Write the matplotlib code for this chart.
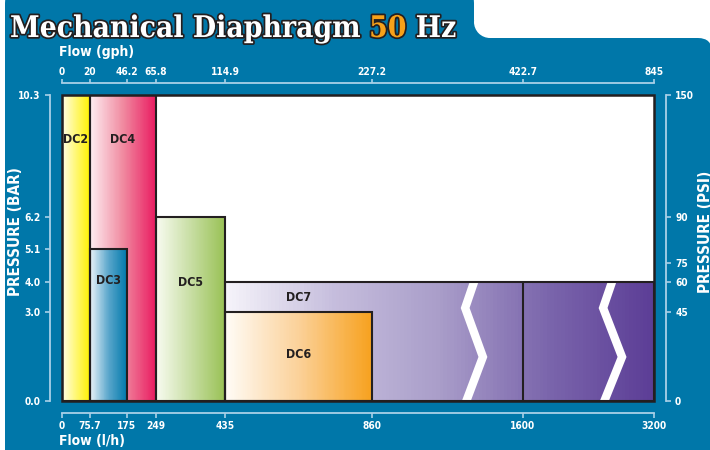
import numpy as np
import matplotlib
matplotlib.use('Agg')
import matplotlib.pyplot as plt
import matplotlib.patheffects as pe
from matplotlib import font_manager as fm
from matplotlib.colors import LinearSegmentedColormap
from matplotlib.patches import Rectangle, FancyBboxPatch, Circle

# ---- data ----
flow_lph = [0, 75.7, 175, 249, 435, 860, 1600, 3200]
flow_gph = ['0', '20', '46.2', '65.8', '114.9', '227.2', '422.7', '845']
bar_ticks = [0.0, 3.0, 4.0, 5.1, 6.2, 10.3]
psi_labels = ['0', '45', '60', '75', '90', '150']
psi_at_bar = [0.0, 3.0, 4.0, 4.65, 6.2, 10.3]

models = ['DC2', 'DC4', 'DC3', 'DC5', 'DC7', 'DC6']
flow_min = [0, 75.7, 75.7, 249, 435, 435]
flow_max = [75.7, 249, 175, 435, 3200, 860]
pressure_max = [10.3, 10.3, 5.1, 6.2, 4.0, 3.0]

# label placement (flow span to centre on, pressure)
label_span = [(0, 75.7), (75.7, 249), (75.7, 175), (249, 435), (435, 860), (435, 860)]
label_y = [8.8, 8.8, 4.05, 4.0, 3.5, 1.55]

grads = {
    'DC2': ['#fffde8', '#fff100'],
    'DC4': ['#fdeef1', '#f08aa0', '#e91b60'],
    'DC3': ['#ecf4f9', '#5aa6cb', '#0079ab'],
    'DC5': ['#f8fbf1', '#c8dea4', '#99c155'],
    'DC7': ['#f6f4fa', '#c6bedd', '#a99dc9', '#7b66ac', '#5b3d96'],
    'DC6': ['#fffcf7', '#fbd199', '#f7a11e'],
}
blue = '#0077a9'
light = '#a9d0e8'
ink = '#231f20'


# condensed fonts if the system has them
def pick(family, fallback):
    fp = fm.FontProperties(family=family, stretch='condensed', weight='bold')
    path = fm.findfont(fp, fallback_to_default=False)
    if 'ondensed' in path:
        return dict(family=family, fontstretch='condensed')
    return dict(family=fallback)


sans = pick('DejaVu Sans', 'Liberation Sans')
serif = pick('DejaVu Serif', 'DejaVu Serif')

# spacing of the flow axis (not linear in the original)
tick_space = [0, 28, 65, 94, 163, 310, 461, 592]


def fwd(x):
    return np.interp(x, flow_lph, tick_space)


def inv(x):
    return np.interp(x, tick_space, flow_lph)


W, H = 710, 450
fig = plt.figure(figsize=(7.1, 4.5), dpi=100)
fig.patch.set_facecolor('white')
rend = fig.canvas.get_renderer()


def fx(x):
    return x / W


def fy(y):
    return 1 - y / H


def fit(s, width, **kw):
    # font size that makes s about width pixels wide
    t = fig.text(0, 0, s, fontsize=10, fontweight='bold', **kw)
    w = t.get_window_extent(rend).width
    t.remove()
    return 10 * width / w


tick_size = fit('46.2', 22.5, **sans)
dc_size = fit('DC5', 25, **sans)
lab_size = fit('PRESSURE (BAR)', 129, **sans)
flow_size = fit('Flow (gph)', 75, **sans)

# blue panel with title tab
inch = fig.dpi_scale_trans
fig.add_artist(FancyBboxPatch((0.05, -0.3), 7.07, 4.42, boxstyle='round,pad=0,rounding_size=0.14',
                              fc=blue, ec='none', transform=inch, zorder=-2))
fig.add_artist(FancyBboxPatch((0.05, 3.7), 4.69, 0.9, boxstyle='round,pad=0,rounding_size=0.13',
                              fc=blue, ec='none', transform=inch, zorder=-2))
fig.add_artist(Rectangle((4.70, 4.1), 0.2, 0.2, fc=blue, ec='none', transform=inch, zorder=-2))
fig.add_artist(Circle((4.90, 4.28), 0.16, fc='white', ec='none', transform=inch, zorder=-1))

ax = fig.add_axes([fx(62), fy(401), 592 / W, 306 / H])
ax.set_facecolor('white')
ax.set_xscale('function', functions=(fwd, inv))
ax.set_xlim(0, 3200)
ax.set_ylim(0, 10.3)

for name, x0, x1, top, span, ly in zip(models, flow_min, flow_max, pressure_max, label_span, label_y):
    cmap = LinearSegmentedColormap.from_list(name, grads[name])
    u = np.linspace(0, 1, 121)
    xe = inv(fwd(x0) + u * (fwd(x1) - fwd(x0)))
    c = ((u[:-1] + u[1:]) / 2)[None, :]
    ax.pcolormesh(xe, [0, top], c, cmap=cmap, vmin=0, vmax=1, shading='flat',
                  edgecolors='none', antialiased=False, zorder=2)
    ax.add_patch(Rectangle((x0, 0), x1 - x0, top, fill=False, ec=ink, lw=1.5, zorder=5))
    ax.text(inv((fwd(span[0]) + fwd(span[1])) / 2), ly, name, ha='center', va='center',
            fontsize=dc_size, fontweight='bold', color=ink, zorder=6, **sans)

# break marks inside DC7
clip = Rectangle((435, 0), 3200 - 435, 4.0, transform=ax.transData)
for xs in ([0.698, 0.681, 0.711, 0.681], [0.931, 0.914, 0.946, 0.914]):
    ln, = ax.plot(xs, [0.40, 0.304, 0.144, -0.01], transform=ax.transAxes, color='white',
                  lw=6, solid_joinstyle='miter', zorder=3)
    ln.set_clip_path(clip)
ax.vlines(1600, 0, 4.0, color=ink, lw=1.5, zorder=4)

# black frame
for s in ax.spines.values():
    s.set_visible(False)
ax.add_patch(Rectangle((0, 0), 1, 1, transform=ax.transAxes, fill=False, ec=ink, lw=1.8,
                       zorder=10, clip_on=False))

tick_font = dict(fontsize=tick_size, fontweight='bold', color='white', **sans)
off = ('outward', 8.6)


def blue_spine(a, side):
    a.spines[side].set_visible(True)
    a.spines[side].set_position(off)
    a.spines[side].set_color(light)
    a.spines[side].set_linewidth(1.3)


# left / bottom on main axes
blue_spine(ax, 'left')
blue_spine(ax, 'bottom')
ax.set_yticks(bar_ticks)
ax.set_yticklabels(['%.1f' % v for v in bar_ticks], **tick_font)
ax.set_xticks(flow_lph)
ax.set_xticklabels([('%g' % v) for v in flow_lph], **tick_font)
ax.xaxis.set_minor_locator(matplotlib.ticker.NullLocator())
ax.tick_params(axis='y', colors=light, length=3.6, width=1.2, pad=3.2)
ax.tick_params(axis='x', colors=light, length=3.6, width=1.2, pad=2.0)
for t in ax.get_xticklabels() + ax.get_yticklabels():
    t.set_color('white')

# right psi axis
axr = ax.twinx()
axr.set_ylim(0, 10.3)
for s in axr.spines.values():
    s.set_visible(False)
blue_spine(axr, 'right')
axr.set_yticks(psi_at_bar)
axr.set_yticklabels(psi_labels, **tick_font)
axr.tick_params(axis='y', colors=light, length=3.6, width=1.2, pad=3.0)
for t in axr.get_yticklabels():
    t.set_color('white')

# top gph axis
axt = ax.twiny()
axt.set_xscale('function', functions=(fwd, inv))
axt.set_xlim(0, 3200)
for s in axt.spines.values():
    s.set_visible(False)
blue_spine(axt, 'top')
axt.set_xticks(flow_lph)
axt.set_xticklabels(flow_gph, **tick_font)
axt.xaxis.set_minor_locator(matplotlib.ticker.NullLocator())
axt.tick_params(axis='x', colors=light, length=3.0, width=1.2, pad=1.0)
for t in axt.get_xticklabels():
    t.set_color('white')

# axis titles
lab = dict(fontsize=lab_size, fontweight='bold', color='white', **sans)
flab = dict(lab, fontsize=flow_size)
fig.text(fx(59), fy(52), 'Flow (gph)', ha='left', va='center', **flab)
fig.text(fx(59), fy(441), 'Flow (l/h)', ha='left', va='center', **flab)
fig.text(fx(16), fy(232), 'PRESSURE (BAR)', ha='center', va='center', rotation=90, **lab)
fig.text(fx(705), fy(232), 'PRESSURE (PSI)', ha='center', va='center', rotation=90, **lab)

# title, "50" in orange, sized to fit the tab
stroke = [pe.withStroke(linewidth=2.5, foreground=ink)]
parts = [('Mechanical Diaphragm ', 'white'), ('50', '#f7a11a'), (' Hz', 'white')]
size = fit(''.join(p for p, _ in parts), 448, **serif)
x = 10
for s, col in parts:
    t = fig.text(fx(x), fy(37), s, color=col, path_effects=stroke, fontsize=size,
                 fontweight='bold', va='baseline', **serif)
    x += t.get_window_extent(rend).width

fig.savefig('out.png', dpi=100, facecolor=fig.get_facecolor())
